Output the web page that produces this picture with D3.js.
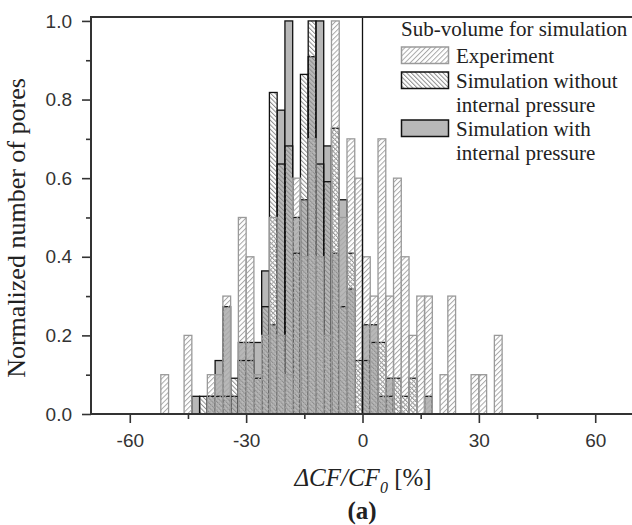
<!DOCTYPE html>
<html>
<head>
<meta charset="utf-8">
<script src="https://cdnjs.cloudflare.com/ajax/libs/d3/7.8.5/d3.min.js"></script>
<style>
  body { margin: 0; background: #fff; }
</style>
</head>
<body>
<div id="chart"></div>
<script>
// Histogram data, bins are 2 % wide (left edge listed)
var binStart = [-52, -50, -48, -46, -44, -42, -40, -38, -36, -34, -32, -30, -28, -26, -24, -22,
  -20, -18, -16, -14, -12, -10, -8, -6, -4, -2, 0, 2, 4, 6, 8, 10, 12, 14, 16, 18, 20, 22,
  24, 26, 28, 30, 32, 34];

var experiment = [0.1, 0, 0, 0.2, 0, 0, 0.1, 0.1, 0.3, 0, 0.5, 0.4, 0.1, 0.2, 0.5, 0.2,
  0.1, 0.6, 0.4, 0.7, 0.4, 0.2, 1.0, 0.5, 0.7, 0.6, 0.4, 0.3, 0.7, 0.3, 0.6, 0.4, 0.2, 0.3, 0.3, 0, 0.1, 0.3,
  0, 0, 0.1, 0.1, 0, 0.2];

var simWithout = [0, 0, 0, 0, 0, 0.045, 0.045, 0.045, 0.045, 0.091, 0.136, 0.136, 0.091, 0.273, 0.818, 0.636,
  0.682, 0.409, 0.864, 1.0, 0.636, 0.591, 0.727, 0.273, 0.409, 0.136, 0.136, 0.182, 0.182, 0.045, 0.091, 0.045, 0.091, 0, 0, 0, 0, 0,
  0, 0, 0, 0, 0, 0];

var simWith = [0, 0, 0, 0, 0.045, 0, 0.045, 0.136, 0.273, 0.045, 0.182, 0.182, 0.182, 0.364, 0.227, 0.773,
  1.0, 0.5, 0.545, 0.909, 1.0, 0.682, 0.409, 0.545, 0.318, 0, 0.227, 0.227, 0.045, 0.091, 0, 0, 0, 0, 0.045, 0, 0, 0,
  0, 0, 0, 0, 0, 0];

var xTicks = [-60, -30, 0, 30, 60];
var xMinorTicks = [-45, -15, 15, 45];
var yTicks = [0.0, 0.2, 0.4, 0.6, 0.8, 1.0];
var yMinorTicks = [0.1, 0.3, 0.5, 0.7, 0.9];

var legendTitle = "Sub-volume for simulation";
var legendLabels = [["Experiment"], ["Simulation without", "internal pressure"], ["Simulation with", "internal pressure"]];

var svgWidth = 632;
var svgHeight = 525;

var plot = { left: 91, right: 634, top: 17, bottom: 414 };

var svg = d3.select("#chart")
  .append("svg")
  .attr("width", svgWidth)
  .attr("height", svgHeight);

var x = d3.scaleLinear().domain([-70, 70]).range([plot.left, plot.right]);
var y = d3.scaleLinear().domain([0, 1.01]).range([plot.bottom, plot.top]);

// hatch patterns
var defs = svg.append("defs");
function hatch(id, angle, color, size) {
  var p = defs.append("pattern")
    .attr("id", id)
    .attr("patternUnits", "userSpaceOnUse")
    .attr("width", size)
    .attr("height", size)
    .attr("patternTransform", "rotate(" + angle + ")");
  p.append("line")
    .attr("x1", 0.5).attr("y1", 0)
    .attr("x2", 0.5).attr("y2", size)
    .attr("stroke", color)
    .attr("stroke-width", 1);
}
hatch("hatchExp", 45, "#a8a8a8", 3.6);
hatch("hatchWithout", -45, "#8c8c8c", 3.2);

var series = [
  { values: simWith, fill: "#b8b8b8", stroke: "#111" },
  { values: simWithout, fill: "url(#hatchWithout)", stroke: "#111" },
  { values: experiment, fill: "url(#hatchExp)", stroke: "#9a9a9a" }
];

var bars = svg.append("g");
series.forEach(function(s) {
  var rows = binStart.map(function(b, i) { return { b: b, v: s.values[i] }; })
    .filter(function(d) { return d.v > 0; });
  bars.append("g").selectAll("rect")
    .data(rows)
    .enter()
    .append("rect")
    .attr("x", d => x(d.b))
    .attr("width", d => x(d.b + 2) - x(d.b))
    .attr("y", d => y(d.v))
    .attr("height", d => y(0) - y(d.v))
    .attr("fill", s.fill)
    .attr("stroke", s.stroke)
    .attr("stroke-width", 1.3);
});

// zero line
svg.append("line")
  .attr("x1", x(0)).attr("x2", x(0))
  .attr("y1", plot.top).attr("y2", plot.bottom)
  .attr("stroke", "#111")
  .attr("stroke-width", 1.3);

// frame
svg.append("rect")
  .attr("x", plot.left).attr("y", plot.top)
  .attr("width", plot.right - plot.left)
  .attr("height", plot.bottom - plot.top)
  .attr("fill", "none")
  .attr("stroke", "#333")
  .attr("stroke-width", 2);

// axes
function styleAxis(g) {
  g.select(".domain").remove();
  g.selectAll(".tick line").attr("stroke", "#333").attr("stroke-width", 1.6);
  g.selectAll(".tick text")
    .attr("fill", "#333")
    .style("font-family", "'Liberation Sans', Arial, sans-serif")
    .style("font-size", "19px");
}

svg.append("g")
  .attr("transform", `translate(0, ${plot.bottom})`)
  .call(d3.axisBottom(x).tickValues(xTicks).tickSize(9).tickPadding(11).tickFormat(d => String(d)))
  .call(styleAxis);

svg.append("g")
  .attr("transform", `translate(0, ${plot.bottom})`)
  .call(d3.axisBottom(x).tickValues(xMinorTicks).tickSize(5).tickFormat(""))
  .call(styleAxis);

svg.append("g")
  .attr("transform", `translate(${plot.left}, 0)`)
  .call(d3.axisLeft(y).tickValues(yTicks).tickSize(9).tickPadding(10).tickFormat(d3.format(".1f")))
  .call(styleAxis);

svg.append("g")
  .attr("transform", `translate(${plot.left}, 0)`)
  .call(d3.axisLeft(y).tickValues(yMinorTicks).tickSize(5).tickFormat(""))
  .call(styleAxis);

// axis titles
var serif = "'Liberation Serif', 'Times New Roman', serif";

svg.append("text")
  .attr("transform", "rotate(-90)")
  .attr("x", -228)
  .attr("y", 25)
  .attr("text-anchor", "middle")
  .style("font-family", serif)
  .style("font-size", "26px")
  .attr("fill", "#222")
  .text("Normalized number of pores");

var xt = svg.append("text")
  .attr("x", 363)
  .attr("y", 486)
  .attr("text-anchor", "middle")
  .style("font-family", serif)
  .style("font-size", "25px")
  .attr("fill", "#222");
xt.append("tspan").style("font-style", "italic").text("\u0394CF/CF");
xt.append("tspan").style("font-style", "italic").style("font-size", "16px").attr("dy", 7).text("0");
xt.append("tspan").attr("dy", -7).text(" [%]");

svg.append("text")
  .attr("x", 362)
  .attr("y", 519)
  .attr("text-anchor", "middle")
  .style("font-family", serif)
  .style("font-size", "25px")
  .style("font-weight", "bold")
  .attr("fill", "#222")
  .text("(a)");

// legend
var legend = svg.append("g").attr("transform", "translate(401, 0)");
legend.append("text")
  .attr("x", 0).attr("y", 36)
  .style("font-family", serif)
  .style("font-size", "21px")
  .attr("fill", "#222")
  .text(legendTitle);

var lineY = [62.5, 87.5, 135.5];
legendLabels.forEach(function(lines, i) {
  var s = series[2 - i];
  legend.append("rect")
    .attr("x", 0.5).attr("y", lineY[i] - 15.5)
    .attr("width", 47).attr("height", 16.5)
    .attr("fill", s.fill)
    .attr("stroke", s.stroke)
    .attr("stroke-width", 1.5);
  lines.forEach(function(t, j) {
    legend.append("text")
      .attr("x", 55).attr("y", lineY[i] + j * 24)
      .style("font-family", serif)
      .style("font-size", "21px")
      .attr("fill", "#222")
      .text(t);
  });
});
</script>
</body>
</html>
